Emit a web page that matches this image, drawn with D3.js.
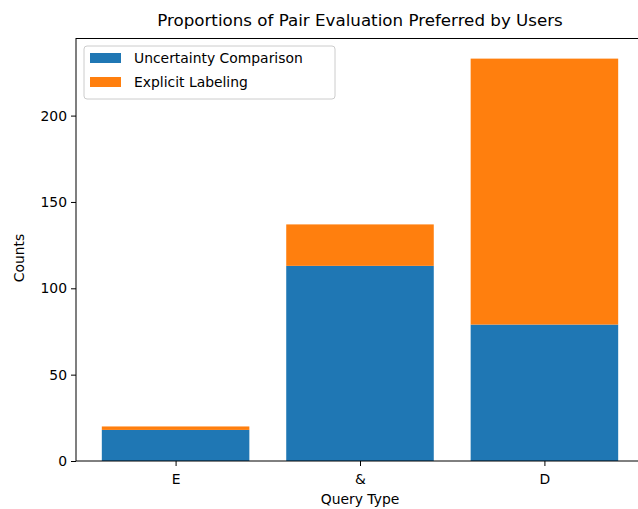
<!DOCTYPE html>
<html>
<head>
<meta charset="utf-8">
<script src="https://cdn.jsdelivr.net/npm/d3@7"></script>
<style>
body { margin: 0; background: #fff; }
svg { font-family: "DejaVu Sans", sans-serif; }
</style>
</head>
<body>
<svg id="chart" width="638" height="509"></svg>
<script>
var categories = ["E", "&", "D"];
var uncertainty = [18, 113, 79];
var explicitLab = [2, 24, 154];
var seriesNames = ["Uncertainty Comparison", "Explicit Labeling"];
var yTicks = [0, 50, 100, 150, 200];

var svg = d3.select("#chart");
var axLeft = 76, axRight = 644, axTop = 38.5, axBottom = 461;
var colors = ["#1f77b4", "#ff7f0e"];

var totals = categories.map(function(c, i){ return uncertainty[i] + explicitLab[i]; });
var x = d3.scaleLinear().domain([-0.54, 2.54]).range([axLeft, axRight]);
var y = d3.scaleLinear().domain([0, d3.max(totals) * 1.05]).range([axBottom, axTop]);
var bw = x(0.8) - x(0);

var g = svg.append("g");
// blue bottoms
g.selectAll("rect.unc").data(uncertainty).enter().append("rect")
	.attr("class", "unc")
	.attr("x", function(d, i){ return x(i) - bw / 2; })
	.attr("y", function(d){ return y(d); })
	.attr("width", bw)
	.attr("height", function(d){ return y(0) - y(d); })
	.attr("fill", colors[0]);
// orange tops
g.selectAll("rect.exp").data(explicitLab).enter().append("rect")
	.attr("class", "exp")
	.attr("x", function(d, i){ return x(i) - bw / 2; })
	.attr("y", function(d, i){ return y(d + uncertainty[i]); })
	.attr("width", bw)
	.attr("height", function(d){ return y(0) - y(d); })
	.attr("fill", colors[1]);

// axes
var xAxis = d3.axisBottom(x).tickValues([0, 1, 2]).tickFormat(function(d){ return categories[d]; }).tickSize(5).tickPadding(8);
var yAxis = d3.axisLeft(y).tickValues(yTicks).tickSize(5).tickPadding(4);
var xg = svg.append("g").attr("transform", "translate(0," + axBottom + ")").call(xAxis);
var yg = svg.append("g").attr("transform", "translate(" + axLeft + ",0)").call(yAxis);
[xg, yg].forEach(function(a){
	a.select(".domain").remove();
	a.selectAll("text").attr("font-size", "13.9px").attr("fill", "#000").attr("font-family", "DejaVu Sans");
	a.selectAll("line").attr("stroke", "#000").attr("stroke-width", 1);
});

// spines
svg.append("rect").attr("x", axLeft).attr("y", axTop).attr("width", axRight - axLeft).attr("height", axBottom - axTop)
	.attr("fill", "none").attr("stroke", "#000").attr("stroke-width", 1);

// title and labels
svg.append("text").attr("x", (axLeft + axRight) / 2).attr("y", 26).attr("text-anchor", "middle")
	.attr("font-size", "16.7px").text("Proportions of Pair Evaluation Preferred by Users");
svg.append("text").attr("x", (axLeft + axRight) / 2).attr("y", 504).attr("text-anchor", "middle")
	.attr("font-size", "13.9px").text("Query Type");
svg.append("text").attr("transform", "translate(24,258) rotate(-90)")
	.attr("text-anchor", "middle").attr("font-size", "13.9px").text("Counts");

// legend
var lg = svg.append("g").attr("transform", "translate(84,46)");
lg.append("rect").attr("width", 251).attr("height", 53).attr("rx", 3)
	.attr("fill", "#fff").attr("fill-opacity", 0.8).attr("stroke", "#ccc");
seriesNames.forEach(function(name, i){
	lg.append("rect").attr("x", 6).attr("y", 7 + i * 24).attr("width", 31).attr("height", 10).attr("fill", colors[i]);
	lg.append("text").attr("x", 50).attr("y", 17 + i * 24).attr("font-size", "13.9px").text(name);
});
</script>
</body>
</html>
